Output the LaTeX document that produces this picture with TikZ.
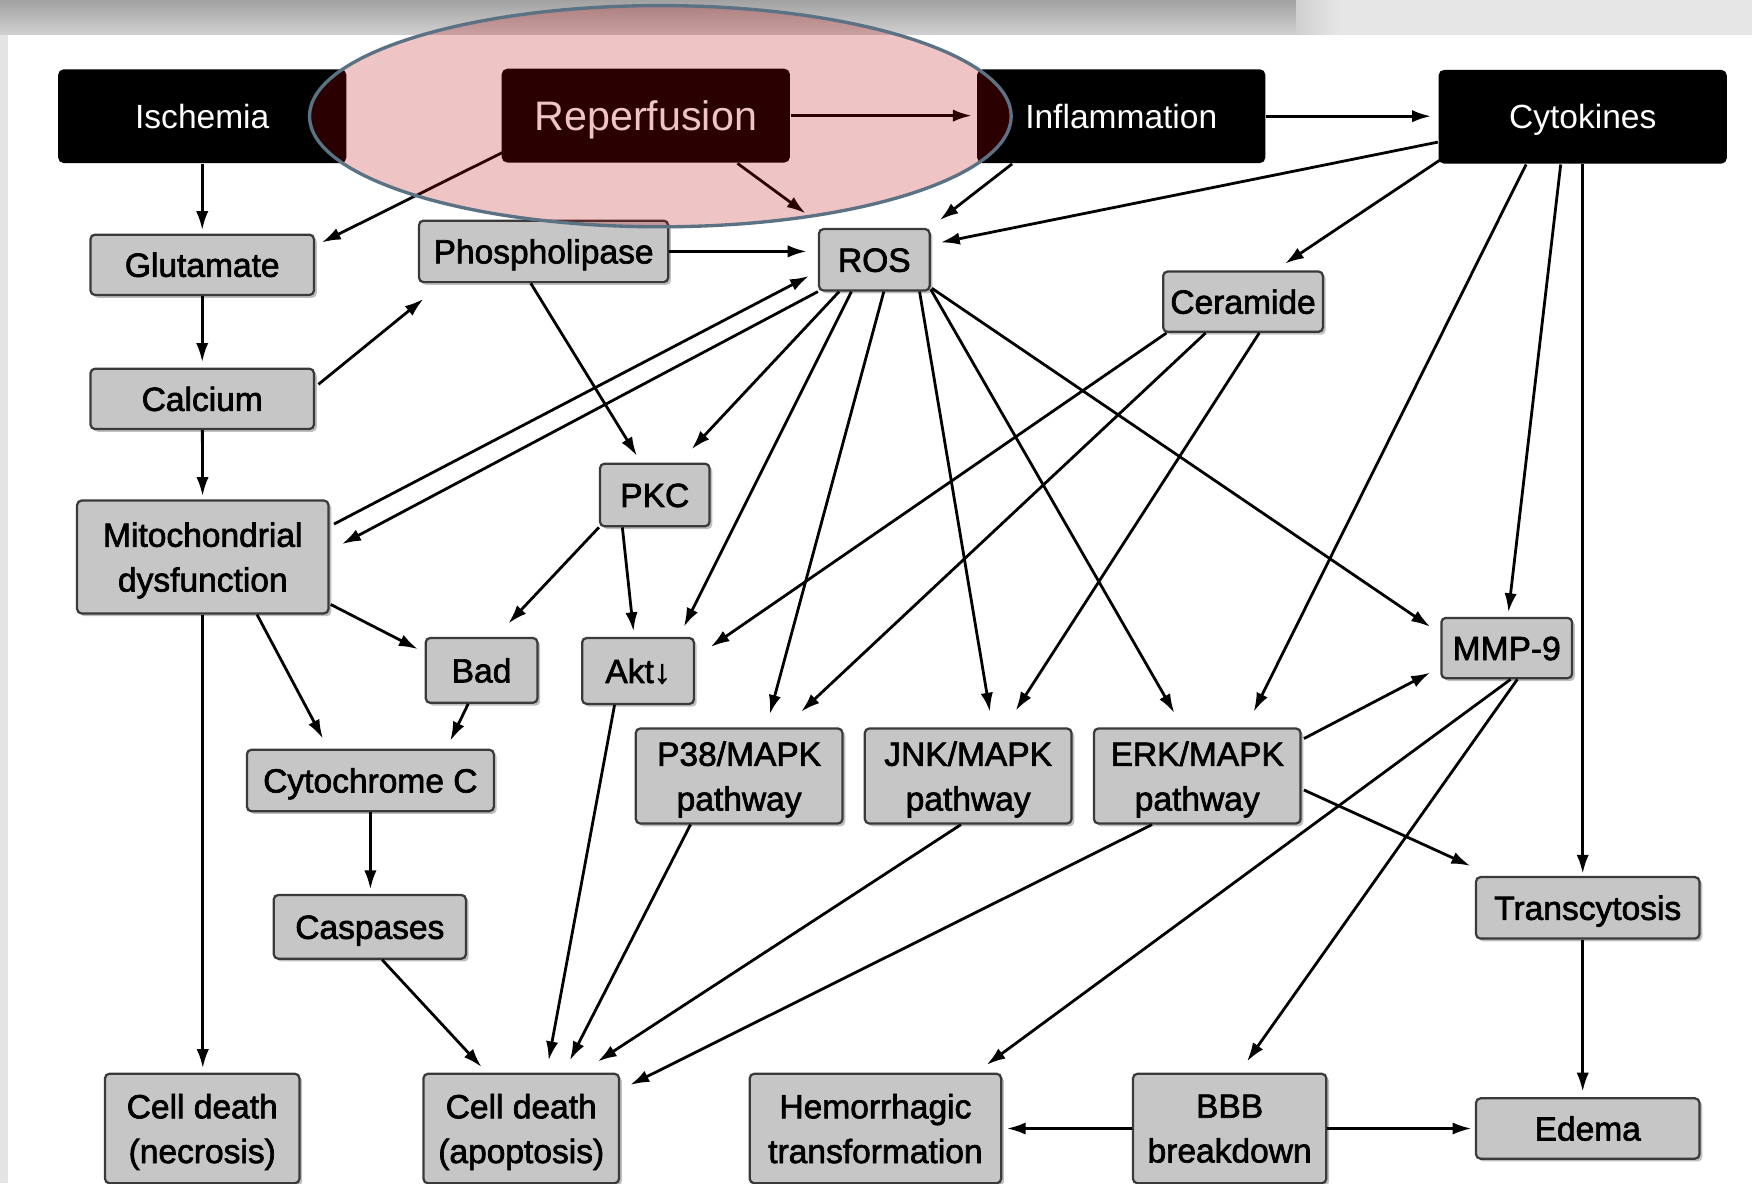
\documentclass[tikz,border=0pt]{standalone}
\usepackage{fontspec}
\setmainfont{Liberation Sans}
\newfontfamily\boxfont[FakeBold=2]{Liberation Sans}
\usetikzlibrary{arrows.meta,calc,shadows}
\definecolor{boxgray}{HTML}{C6C6C6}
\definecolor{boxline}{HTML}{3A3A3A}
\definecolor{ellline}{HTML}{5B7284}
\definecolor{pinkov}{rgb}{0.74,0,0}
\definecolor{bandtop}{HTML}{A2A2A2}
\definecolor{bandbot}{HTML}{D0D0D0}
\definecolor{bandlight}{HTML}{E6E6E6}
\definecolor{stripgray}{HTML}{E4E4E4}
\begin{document}
\begin{tikzpicture}[x=0.1mm,y=-0.1mm,
  blackbox/.style={fill=black,rounded corners=0.5mm,text=white,minimum width=25.8mm,minimum height=8.4mm,inner sep=0pt,text height=2.15mm,text depth=0pt,font=\fontsize{8.54pt}{10pt}\selectfont},
  graybox/.style={fill=boxgray,draw=boxline,line width=0.2mm,rounded corners=0.4mm,inner sep=0pt,align=center,
    drop shadow={shadow xshift=0.25mm,shadow yshift=-0.25mm,opacity=0.25,fill=black},
    font=\boxfont\fontsize{8.54pt}{11.4pt}\selectfont},
  oneline/.style={text height=2.15mm,text depth=0pt},
  twoline/.style={text depth=0pt},
  arr/.style={draw=black,line width=0.25mm,-{Latex[length=1.7mm,width=1.1mm]}}]
% background
\useasboundingbox (0,0) rectangle (1568,1059);
\fill[white] (0,0) rectangle (1568,1059);
\fill[top color=bandtop,bottom color=bandbot] (0,0) rectangle (1160,31);
\fill[left color=bandbot,right color=bandlight] (1160,0) rectangle (1200,31);
\fill[bandlight] (1200,0) rectangle (1568,31);
\fill[stripgray] (0,31) rectangle (7,1059);
% black boxes
\node[blackbox] (isch) at (181,104) {Ischemia};
\node[blackbox,text height=2.65mm,font=\fontsize{10.5pt}{12pt}\selectfont] (rep) at (578,103.5) {Reperfusion};
\node[blackbox] (infl) at (1003.5,104) {Inflammation};
\node[blackbox] (cyto) at (1416.5,104.5) {Cytokines};
% gray boxes
\node[graybox,oneline,minimum width=20mm,minimum height=5.4mm] (glut) at (181,237) {Glutamate};
\node[graybox,oneline,minimum width=22.3mm,minimum height=5.5mm] (phos) at (486.5,225) {Phospholipase};
\node[graybox,oneline,minimum width=9.9mm,minimum height=5.5mm] (ros) at (782.5,232.5) {ROS};
\node[graybox,oneline,minimum width=14.3mm,minimum height=5.4mm] (cer) at (1112.5,270) {Ceramide};
\node[graybox,oneline,minimum width=20mm,minimum height=5.4mm] (calc) at (181,357) {Calcium};
\node[graybox,oneline,minimum width=9.8mm,minimum height=5.6mm] (pkc) at (586,443) {PKC};
\node[graybox,twoline,minimum width=22.5mm,minimum height=10.1mm] (mito) at (181.5,498.5) {Mitochondrial\\dysfunction};
\node[graybox,oneline,minimum width=10mm,minimum height=5.8mm] (bad) at (431,600) {Bad};
\node[graybox,oneline,minimum width=10mm,minimum height=5.9mm] (akt) at (571,600.5) {Akt↓};
\node[graybox,oneline,minimum width=11.7mm,minimum height=5.4mm] (mmp) at (1348.5,580) {MMP-9};
\node[graybox,oneline,minimum width=22.1mm,minimum height=5.5mm] (cytc) at (331.5,698.5) {Cytochrome C};
\node[graybox,twoline,minimum width=18.5mm,minimum height=8.5mm] (p38) at (661.5,694.5) {P38/MAPK\\pathway};
\node[graybox,twoline,minimum width=18.5mm,minimum height=8.5mm] (jnk) at (866.5,694.5) {JNK/MAPK\\pathway};
\node[graybox,twoline,minimum width=18.5mm,minimum height=8.5mm] (erk) at (1071.5,694.5) {ERK/MAPK\\pathway};
\node[graybox,oneline,minimum width=20mm,minimum height=5.5mm] (trans) at (1421,812.5) {Transcytosis};
\node[graybox,oneline,minimum width=17.2mm,minimum height=5.7mm] (casp) at (331,829.5) {Caspases};
\node[graybox,twoline,minimum width=17.4mm,minimum height=9.8mm] (necr) at (181,1010) {Cell death\\(necrosis)};
\node[graybox,twoline,minimum width=17.5mm,minimum height=9.8mm] (apop) at (466.5,1010) {Cell death\\(apoptosis)};
\node[graybox,twoline,minimum width=22.5mm,minimum height=9.8mm] (hem) at (783.5,1010) {Hemorrhagic\\transformation};
\node[graybox,twoline,minimum width=17.3mm,minimum height=9.8mm] (bbb) at (1100.5,1010) {BBB\\breakdown};
\node[graybox,oneline,minimum width=20mm,minimum height=5.4mm] (edema) at (1421,1010) {Edema};
% connectors
\draw[arr,shorten >=0.3mm] (isch) -- (glut);
\draw[arr] ($(rep.south west)+(2,-10)$) -- ($(glut.north east)+(6,8)$);
\draw[arr] ($(rep.south)+(82,0)$) -- ($(ros.north west)+(-11,-13)$);
\draw[arr,shorten >=0.4mm] (rep.east) -- (rep.east -| infl.west);
\draw[arr,shorten >=0.6mm] (infl.east) -- (infl.east -| cyto.west);
\draw[arr] ($(infl.south west)+(32,0)$) -- ($(ros.north east)+(8,-7)$);
\draw[arr] ($(cyto.south west)+(0,-20)$) -- ($(ros.north east)+(9,13)$);
\draw[arr] ($(cyto.south west)+(2,-4)$) -- ($(cer.north)+(37.5,-6)$);
\draw[arr] ($(cyto.south west)+(79,0)$) -- ($(erk.north east)+(-43,-14)$);
\draw[arr] ($(cyto.south west)+(110,0)$) -- ($(mmp.north)+(1.5,-4)$);
\draw[arr,shorten >=0.2mm] (cyto.south) -- (cyto.south |- trans.north);
\draw[arr,shorten >=0.5mm] (glut) -- (calc);
\draw[arr] ($(calc.north east)+(3,15)$) -- ($(phos.south west)+(5,14)$);
\draw[arr,shorten >=0.3mm] (calc) -- (mito);
\draw[arr,shorten >=1mm] (phos.east) -- (phos.east -| ros.west);
\draw[arr] ($(phos.south)+(-11.5,0)$) -- ($(pkc.north)+(-16,-6)$);
\draw[arr] ($(mito.north east)+(4,22)$) -- ($(ros.south west)+(-8,-14)$);
\draw[arr] (ros.south west) -- ($(mito.north east)+(11,40)$);
\draw[arr] ($(ros.south west)+(19,0)$) -- ($(pkc.north east)+(-17,-12)$);
\draw[arr] ($(ros.south west)+(30,0)$) -- ($(akt.north east)+(-10,-9)$);
\draw[arr] ($(ros.south west)+(59,0)$) -- ($(p38.north)+(27.5,-12)$);
\draw[arr] ($(ros.south east)+(-10,0)$) -- ($(jnk.north)+(19.5,-14)$);
\draw[arr] ($(ros.south east)+(0,-2)$) -- ($(erk.north)+(-20.5,-13)$);
\draw[arr] ($(ros.south east)+(1,-3)$) -- ($(mmp.north west)+(-9,9)$);
\draw[arr] ($(cer.south west)+(4,0)$) -- ($(akt.north east)+(14,9)$);
\draw[arr] ($(cer.south west)+(39,0)$) -- ($(p38.north)+(55.5,-14)$);
\draw[arr] ($(cer.south west)+(87,0)$) -- ($(jnk.north)+(42.5,-15)$);
\draw[arr] (pkc.south west) -- ($(bad.north)+(24,-12)$);
\draw[arr] ($(pkc.south west)+(21,0)$) -- ($(akt.north)+(-4,-5)$);
\draw[arr] ($(mito.south east)+(1,-9)$) -- ($(bad.north west)+(-6,11)$);
\draw[arr] ($(mito.south)+(48.5,0)$) -- ($(cytc.north west)+(69,-9)$);
\draw[arr,shorten >=0.4mm] (mito.south) -- (mito.south |- necr.north);
\draw[arr] ($(bad.south)+(-12,0)$) -- ($(cytc.north)+(71.5,-7)$);
\draw[arr] ($(akt.south)+(-21,0)$) -- ($(apop.north)+(24.5,-11)$);
\draw[arr,shorten >=0.4mm] (cytc.south) -- (cytc.south |- casp.north);
\draw[arr] ($(casp.south)+(11,0)$) -- ($(apop.north west)+(53,-5)$);
\draw[arr] ($(p38.south)+(-43.5,0)$) -- ($(apop.north)+(43.5,-11)$);
\draw[arr] ($(jnk.south)+(-6.5,0)$) -- ($(apop.north)+(68.5,-10)$);
\draw[arr] ($(erk.south)+(-40.5,0)$) -- ($(apop.north east)+(9,11)$);
\draw[arr] ($(erk.north east)+(2,10)$) -- ($(mmp.south west)+(-9,-6)$);
\draw[arr] ($(erk.east)+(2,12.5)$) -- ($(trans.north west)+(-4,-9)$);
\draw[arr] ($(mmp.south)+(3.5,0)$) -- ($(hem.north east)+(-14,-7)$);
\draw[arr] ($(mmp.south)+(9.5,0)$) -- ($(bbb.north)+(15.5,-10)$);
\draw[arr,shorten >=0.5mm] (trans.south -| cyto.south) -- (edema.north -| cyto.south);
\draw[arr,shorten >=0.4mm] (bbb.west) -- (hem.east);
\draw[arr,shorten >=0.3mm] (bbb.east) -- (edema.west);
% highlight ellipse
\fill[pinkov,fill opacity=0.23] (591,104) ellipse [x radius=31.4mm,y radius=9.9mm];
\draw[ellline,line width=0.3mm] (591,104) ellipse [x radius=31.4mm,y radius=9.9mm];
\end{tikzpicture}
\end{document}
